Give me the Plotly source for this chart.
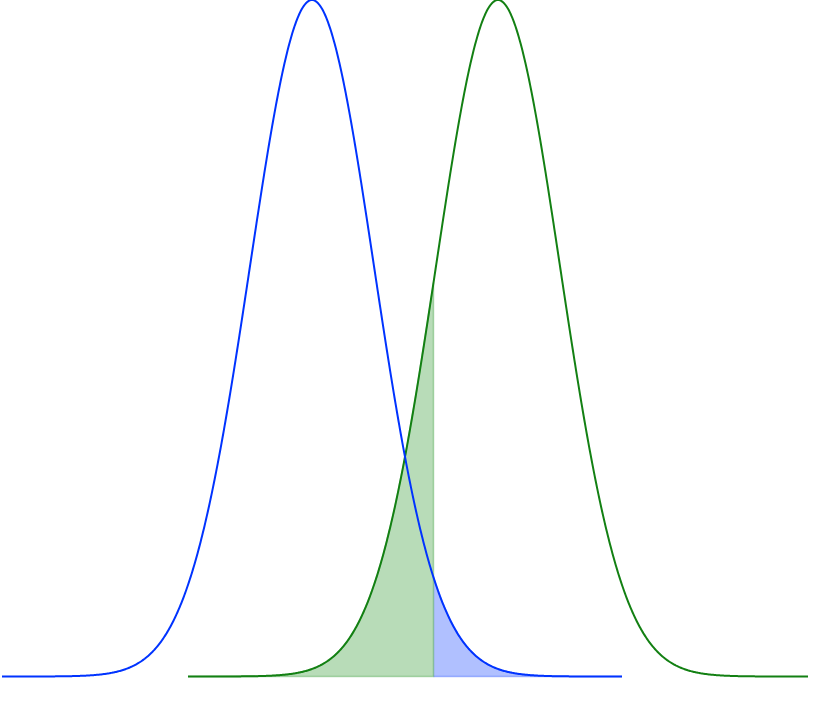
import numpy as np
import plotly.graph_objects as go

# Distribution parameters
names = ["H0", "H1"]
means = [0.0, 3.0]
sds = [1.0, 1.0]
spans = [(-5.0, 5.0), (-2.0, 8.0)]
cutoff = 1.96
line_colors = ["#0033ff", "#138013"]
fill_colors = ["rgba(0,51,255,0.31)", "rgba(0,128,0,0.28)"]


def pdf(x, m, s):
    return np.exp(-0.5 * ((x - m) / s) ** 2) / (s * np.sqrt(2 * np.pi))


fig = go.Figure()

# Blue (H0) tail right of cutoff
bx = np.linspace(cutoff, spans[0][1], 300)
by = pdf(bx, means[0], sds[0])
fig.add_trace(go.Scatter(
    x=np.concatenate([bx, [spans[0][1], cutoff]]),
    y=np.concatenate([by, [0, 0]]),
    fill="toself", fillcolor=fill_colors[0], mode="lines",
    line=dict(color=fill_colors[0], width=1.5), hoverinfo="skip", showlegend=False))

# Green (H1) area left of cutoff
gx = np.linspace(spans[1][0], cutoff, 300)
gy = pdf(gx, means[1], sds[1])
fig.add_trace(go.Scatter(
    x=np.concatenate([gx, [cutoff, spans[1][0]]]),
    y=np.concatenate([gy, [0, 0]]),
    fill="toself", fillcolor=fill_colors[1], mode="lines",
    line=dict(color=fill_colors[1], width=1.5), hoverinfo="skip", showlegend=False))

# Curves: green first, blue on top
for i in [1, 0]:
    a, b = spans[i]
    x = np.linspace(a, b, 800)
    fig.add_trace(go.Scatter(x=x, y=pdf(x, means[i], sds[i]), mode="lines", name=names[i],
                             line=dict(color=line_colors[i], width=2, simplify=False),
                             showlegend=False))

peak = pdf(0, 0, 1)
fig.update_layout(
    width=816, height=708,
    margin=dict(l=0, r=0, t=0, b=30),
    paper_bgcolor="white", plot_bgcolor="white",
    xaxis=dict(range=[-5.032, 8.129], visible=False, showgrid=False, zeroline=False),
    yaxis=dict(range=[-peak * 1.5 / 676.5, peak], visible=False, showgrid=False, zeroline=False),
)

fig.write_html("out.html", config={"displayModeBar": False},
               post_script="document.body.style.margin='0';")
